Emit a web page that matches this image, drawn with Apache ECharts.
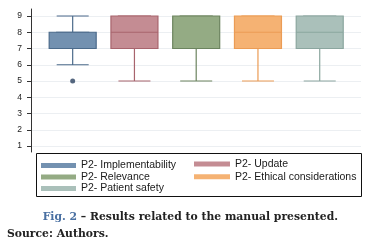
<!DOCTYPE html>
<html>
<head>
<meta charset="utf-8">
<script src="https://cdn.jsdelivr.net/npm/echarts@6/dist/echarts.min.js"></script>
<style>
  html, body { margin: 0; padding: 0; background: #fff; }
  #main { width: 367px; height: 252px; }
</style>
</head>
<body>
<div id="main"></div>
<script>
// 数据
var categories = ['P2- Implementability', 'P2- Update', 'P2- Relevance', 'P2- Ethical considerations', 'P2- Patient safety'];
var lowWhisker = [6, 5, 5, 5, 5];
var q1 = [7, 7, 7, 7, 7];
var median = [8, 8, 9, 8, 8];
var q3 = [8, 9, 9, 9, 9];
var highWhisker = [9, 9, 9, 9, 9];
var outliers = [[0, 5]];
var yMin = 1, yMax = 9, yStep = 1;

// 颜色
var fills = ['#7391b0', '#c48c93', '#94ab84', '#f5b273', '#aac0ba'];
var borders = ['#4c6b8b', '#a8646d', '#6c845f', '#eb9c55', '#8ba69f'];

var chart = echarts.init(document.getElementById('main'));

// whiskers (narrow caps) and boxes (wide) as two boxplot series
var whiskerData = categories.map(function (c, i) {
    return {
        value: [lowWhisker[i], q1[i], median[i], q3[i], highWhisker[i]],
        itemStyle: { color: fills[i], borderColor: borders[i], borderWidth: 1.2 }
    };
});
var boxData = categories.map(function (c, i) {
    return {
        value: [q1[i], q1[i], median[i], q3[i], q3[i]],
        itemStyle: { color: fills[i], borderColor: borders[i], borderWidth: 1.2 }
    };
});

var hiddenY = { type: 'value', min: yMin, max: yMax, show: false };

var legendSeries = categories.map(function (c, i) {
    return {
        name: c,
        type: 'bar',
        xAxisIndex: 3,
        yAxisIndex: 3,
        data: [],
        itemStyle: { color: fills[i], borderColor: fills[i], borderWidth: 0 }
    };
});

var legendText = { fontFamily: 'Liberation Sans', fontSize: 10.5, color: '#1a1a1a', lineHeight: 10 };
var legendItem = { borderWidth: 0 };

var option = {
    animation: false,
    grid: [
        { left: 31, right: 6, top: 9, bottom: 100 },
        { left: 31, right: 6, top: 16, bottom: 106 },
        { left: 41.8, right: 16.4, top: 16, bottom: 106 },
        { left: 41.8, right: 16.4, top: 16, bottom: 106 }
    ],
    xAxis: [
        { gridIndex: 0, type: 'value', show: false },
        { gridIndex: 1, type: 'value', show: false },
        { gridIndex: 2, type: 'category', data: categories, show: false },
        { gridIndex: 3, type: 'category', data: categories, show: false }
    ],
    yAxis: [
        {
            gridIndex: 0, type: 'value', min: 0, max: 1,
            axisLine: { show: true, lineStyle: { color: '#333', width: 1 } },
            axisTick: { show: false }, axisLabel: { show: false }, splitLine: { show: false }
        },
        {
            gridIndex: 1, type: 'value', min: yMin, max: yMax, interval: yStep,
            axisLine: { show: false },
            axisTick: { show: true, length: 4, lineStyle: { color: '#333' } },
            axisLabel: { fontFamily: 'Liberation Sans', fontSize: 8.5, color: '#222', margin: 9 },
            splitLine: { show: true, lineStyle: { color: '#eceff2', width: 1 } }
        },
        Object.assign({ gridIndex: 2 }, hiddenY),
        Object.assign({ gridIndex: 3 }, hiddenY)
    ],
    legend: [
        {
            orient: 'vertical', left: 41, top: 160, padding: 0, itemGap: 0.5,
            itemWidth: 35, itemHeight: 5, icon: 'rect', itemStyle: legendItem,
            data: [categories[0], categories[2], categories[4]],
            textStyle: legendText, selectedMode: false
        },
        {
            orient: 'vertical', left: 194, top: 158.5, padding: 0, itemGap: 1.7,
            itemWidth: 36, itemHeight: 5, icon: 'rect', itemStyle: legendItem,
            data: [categories[1], categories[3]],
            textStyle: legendText, selectedMode: false
        }
    ],
    title: [
        {
            text: '{a|Fig. 2} – Results related to the manual presented.',
            left: 42.7, top: 212, padding: 0,
            textStyle: {
                fontFamily: 'DejaVu Serif', fontSize: 10.8, fontWeight: 'bold', color: '#222',
                rich: { a: { fontFamily: 'DejaVu Serif', fontSize: 10.8, fontWeight: 'bold', color: '#4a70a2' } }
            }
        },
        {
            text: 'Source: Authors.',
            left: 7, top: 229, padding: 0,
            textStyle: { fontFamily: 'DejaVu Serif', fontSize: 10.8, fontWeight: 'bold', color: '#222' }
        }
    ],
    graphic: [
        {
            type: 'rect', silent: true,
            shape: { x: 36.5, y: 153.5, width: 325, height: 43 },
            style: { fill: 'none', stroke: '#111', lineWidth: 1 }
        }
    ],
    series: [
        {
            type: 'boxplot', xAxisIndex: 2, yAxisIndex: 2,
            boxWidth: [32, 32], data: whiskerData, z: 2
        },
        {
            type: 'boxplot', xAxisIndex: 3, yAxisIndex: 3,
            boxWidth: [47, 47], data: boxData, z: 3
        },
        {
            type: 'scatter', xAxisIndex: 3, yAxisIndex: 3,
            symbolSize: 5, data: outliers, z: 4,
            itemStyle: { color: '#2c4260' }
        }
    ].concat(legendSeries)
};

chart.setOption(option);
</script>
</body>
</html>
